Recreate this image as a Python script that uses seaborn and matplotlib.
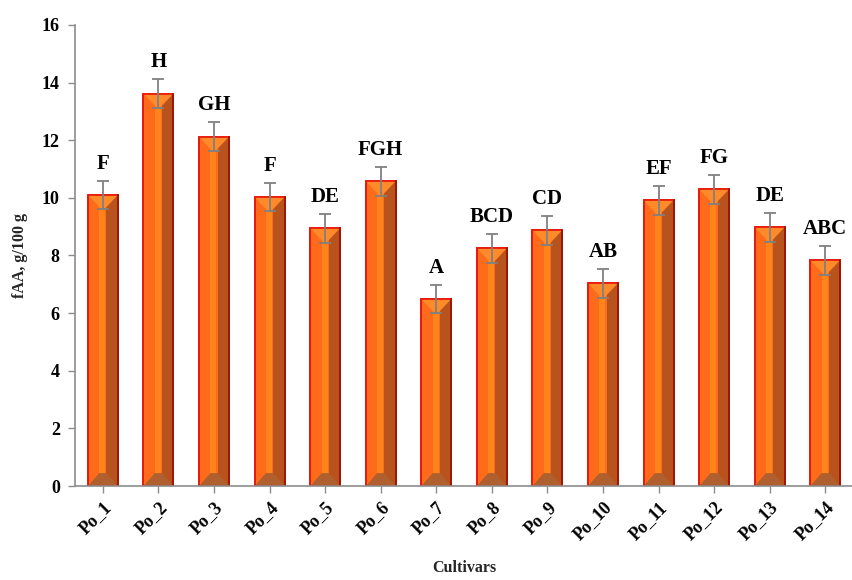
import numpy as np
import pandas as pd
import seaborn as sns
import matplotlib.pyplot as plt
from matplotlib.patches import Rectangle, Polygon

cultivars = ['Po_1', 'Po_2', 'Po_3', 'Po_4', 'Po_5', 'Po_6', 'Po_7',
             'Po_8', 'Po_9', 'Po_10', 'Po_11', 'Po_12', 'Po_13', 'Po_14']
faa = [10.1, 13.62, 12.12, 10.03, 8.95, 10.58, 6.49,
       8.25, 8.88, 7.04, 9.92, 10.3, 8.98, 7.84]
err = [0.5, 0.5, 0.5, 0.5, 0.5, 0.5, 0.5,
       0.5, 0.5, 0.5, 0.5, 0.5, 0.5, 0.5]
letters = ['F', 'H', 'GH', 'F', 'DE', 'FGH', 'A',
           'BCD', 'CD', 'AB', 'EF', 'FG', 'DE', 'ABC']

df = pd.DataFrame({'Cultivars': cultivars, 'fAA': faa})

sns.set_style("white", {'text.color': 'black', 'xtick.color': 'black', 'ytick.color': 'black'})
plt.rcParams['font.family'] = ['Liberation Serif', 'DejaVu Serif']

fig = plt.figure(figsize=(8.53, 5.8), dpi=100, facecolor='white')
ax = fig.add_axes([0.088, 0.162, 0.912, 0.795])

sns.barplot(data=df, x='Cultivars', y='fAA', color='#FF6B1A', saturation=1,
            width=0.54, edgecolor='#E8160A', linewidth=1.2, ax=ax, errorbar=None)

# bevel shading built from each bar's own geometry
for p in ax.patches[:len(cultivars)]:
    x0, w, h = p.get_x(), p.get_width(), p.get_height()
    ax.add_patch(Rectangle((x0 + 0.62 * w, 0), 0.38 * w, h, facecolor='#B9531E',
                           edgecolor='none', zorder=p.get_zorder() + 0.1))
    ax.add_patch(Rectangle((x0 + 0.38 * w, 0), 0.2 * w, h, facecolor='#FF841C',
                           edgecolor='none', zorder=p.get_zorder() + 0.1))
    ax.add_patch(Polygon([(x0, h), (x0 + w, h), (x0 + 0.5 * w, h - 0.55)],
                         closed=True, facecolor='#FF8A2A', edgecolor='none',
                         zorder=p.get_zorder() + 0.2))
    ax.add_patch(Polygon([(x0, 0), (x0 + w, 0), (x0 + 0.62 * w, 0.45), (x0 + 0.38 * w, 0.45)],
                         closed=True, facecolor='#B0602F', edgecolor='none',
                         zorder=p.get_zorder() + 0.2))
    ax.add_patch(Rectangle((x0, 0), w, h, facecolor='none', edgecolor='#E8160A',
                           linewidth=1.2, zorder=p.get_zorder() + 0.3))
    ax.plot([x0 + w, x0 + w], [0, h], color='#9E1608', linewidth=1.4,
            zorder=p.get_zorder() + 0.35)

xs = np.arange(len(cultivars))
ax.errorbar(xs, faa, yerr=err, fmt='none', ecolor='#808080', elinewidth=1.3,
            capsize=4, capthick=1.3, zorder=5)

for x, v, e, t in zip(xs, faa, err, letters):
    ax.annotate(t, (x, v + e), xytext=(0, 5), textcoords='offset points',
                ha='center', va='bottom', fontsize=15, fontweight='bold', color='black')

ax.set_xlim(-0.5, len(cultivars) - 0.5)
ax.set_ylim(0, 16)
ax.set_yticks(range(0, 17, 2))

for s in ['top', 'right']:
    ax.spines[s].set_visible(False)
for s in ['left', 'bottom']:
    ax.spines[s].set_color('#8C8C8C')
    ax.spines[s].set_linewidth(1.2)

ax.tick_params(axis='both', which='both', direction='out', length=5, width=1,
               color='#8C8C8C', left=True, bottom=True)
ax.tick_params(axis='y', labelsize=13, pad=6)
ax.tick_params(axis='x', labelsize=13, pad=4)
for lab in ax.get_yticklabels():
    lab.set_fontweight('bold')
for lab in ax.get_xticklabels():
    lab.set_fontweight('bold')
    lab.set_rotation(45)
    lab.set_ha('right')
    lab.set_rotation_mode('anchor')

ax.set_ylabel('fAA, g/100 g', fontsize=11.5, fontweight='bold', labelpad=10)
ax.set_xlabel('Cultivars', fontsize=11.5, fontweight='bold', labelpad=12)

fig.savefig('out.png', dpi=100, facecolor='white')
